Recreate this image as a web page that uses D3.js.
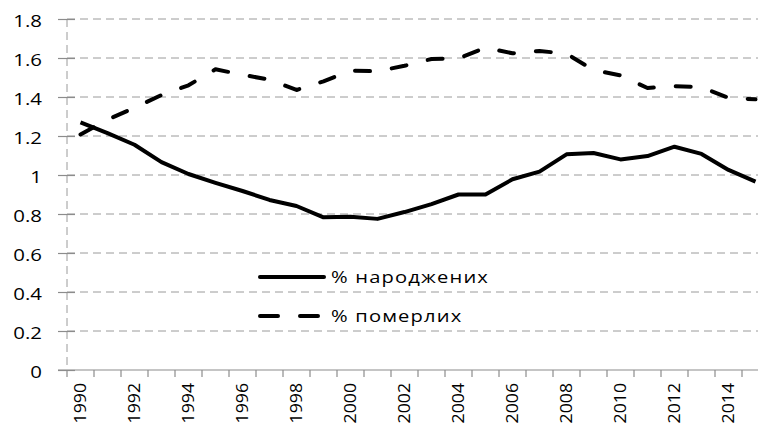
<!DOCTYPE html>
<html>
<head>
<meta charset="utf-8">
<script src="https://cdnjs.cloudflare.com/ajax/libs/d3/7.8.5/d3.min.js"></script>
<style>
	body { margin: 0; background: #fff; }
	svg { display: block; }
	text { font-family: "Open Sans", "Noto Sans", sans-serif; fill: #000; }
	.grid { stroke: #9a9a9a; stroke-width: 1; stroke-dasharray: 8,5; }
	.axis-line { stroke: #8c8c8c; stroke-width: 1.2; }
	.series { fill: none; stroke: #000; stroke-width: 4; stroke-linejoin: round; }
</style>
</head>
<body>
<div id="chart"></div>
<script>
// ----------------------------------------
// DATA

var years = [1990, 1991, 1992, 1993, 1994, 1995, 1996, 1997, 1998, 1999,
	2000, 2001, 2002, 2003, 2004, 2005, 2006, 2007, 2008, 2009,
	2010, 2011, 2012, 2013, 2014, 2015];

// % народжених
var births = [1.27, 1.215, 1.155, 1.066, 1.005, 0.96, 0.918, 0.872, 0.841, 0.783,
	0.786, 0.775, 0.81, 0.851, 0.90, 0.90, 0.978, 1.017, 1.106, 1.113,
	1.08, 1.097, 1.145, 1.108, 1.026, 0.966];

// % померлих
var deaths = [1.208, 1.284, 1.345, 1.41, 1.46, 1.542, 1.514, 1.489, 1.436, 1.48,
	1.535, 1.532, 1.56, 1.595, 1.598, 1.653, 1.624, 1.636, 1.622, 1.538,
	1.511, 1.446, 1.456, 1.45, 1.396, 1.388];

var yTicks = [0, 0.2, 0.4, 0.6, 0.8, 1, 1.2, 1.4, 1.6, 1.8];
var xLabels = years.filter(function (d) { return d % 2 === 0; });

var seriesNames = ["% народжених", "% померлих"];

// ----------------------------------------
// CHART

var width = 758;
var height = 423;

// plot area (right side runs past the edge, as in the source)
var plotLeft = 67, plotTop = 19, plotBottom = 370;
var band = 27;
var plotRight = plotLeft + band * years.length;

var svg = d3.select("#chart").append("svg")
	.attr("width", width)
	.attr("height", height);

var xScale = d3.scaleBand().domain(years).range([plotLeft, plotRight]);
var yScale = d3.scaleLinear().domain([0, 1.8]).range([plotBottom, plotTop]);

// horizontal gridlines
svg.append("g").selectAll("line")
	.data(yTicks.filter(function (d) { return d > 0; }))
	.enter().append("line")
	.attr("class", "grid")
	.attr("x1", plotLeft).attr("x2", width)
	.attr("y1", function (d) { return yScale(d); })
	.attr("y2", function (d) { return yScale(d); });

// y axis (dashed, like the gridlines)
svg.append("line")
	.attr("class", "grid")
	.attr("x1", plotLeft).attr("x2", plotLeft)
	.attr("y1", yScale(1.8)).attr("y2", plotBottom);

// y ticks + labels
var yAxis = d3.axisLeft(yScale)
	.tickValues(yTicks)
	.tickSize(9)
	.tickFormat(function (d) { return String(d); });

var gy = svg.append("g")
	.attr("transform", "translate(" + plotLeft + ",0)")
	.call(yAxis);
gy.select(".domain").remove();
gy.selectAll(".tick line")
	.attr("x1", -9)
	.attr("x2", 8)
	.attr("stroke", "#8c8c8c")
	.attr("stroke-width", 1.2);
gy.selectAll(".tick text").remove();
gy.selectAll(".tick").append("text")
	.attr("text-anchor", "end")
	.attr("dy", "0.36em")
	.attr("font-size", 17)
	.attr("transform", "translate(-25,1) scale(1.2,1)")
	.text(function (d) { return String(d); });

// x axis line
svg.append("line")
	.attr("class", "axis-line")
	.attr("x1", plotLeft - 9).attr("x2", width)
	.attr("y1", plotBottom).attr("y2", plotBottom);

// x ticks at band boundaries
var boundaries = years.map(function (d) { return xScale(d); }).concat([plotRight]);
svg.append("g").selectAll("line")
	.data(boundaries)
	.enter().append("line")
	.attr("class", "axis-line")
	.attr("x1", function (d) { return d; })
	.attr("x2", function (d) { return d; })
	.attr("y1", plotBottom)
	.attr("y2", plotBottom + 7);

// x labels, every second year, rotated
svg.append("g").selectAll("text")
	.data(xLabels)
	.enter().append("text")
	.attr("text-anchor", "end")
	.attr("dy", "0.36em")
	.attr("font-size", 15.5)
	.attr("transform", function (d) {
		var cx = xScale(d) + xScale.bandwidth() / 2;
		return "translate(" + cx + "," + (plotBottom + 13) + ") rotate(-90) scale(1.14,1)";
	})
	.text(function (d) { return d; });

// lines
var line = d3.line()
	.x(function (d, i) { return xScale(years[i]) + xScale.bandwidth() / 2; })
	.y(function (d) { return yScale(d); });

svg.append("path")
	.attr("class", "series")
	.attr("d", line(births));

svg.append("path")
	.attr("class", "series")
	.attr("stroke-linecap", "round")
	.attr("stroke-dasharray", "15,22")
	.attr("d", line(deaths));

// ----------------------------------------
// LEGEND

var legend = svg.append("g").attr("transform", "translate(258,277)");

legend.selectAll("g")
	.data(seriesNames)
	.enter().append("g")
	.attr("transform", function (d, i) { return "translate(0," + (i * 39) + ")"; })
	.each(function (d, i) {
		var g = d3.select(this);
		g.append("line")
			.attr("class", "series")
			.attr("x1", 2).attr("x2", i === 0 ? 66 : 64)
			.attr("stroke-linecap", "round")
			.attr("stroke-dasharray", i === 0 ? null : "18,22");
		g.append("text")
			.attr("x", 0)
			.attr("dy", "0.36em")
			.attr("font-size", 15.5)
			.attr("letter-spacing", 0.9)
			.attr("transform", "translate(73,0) scale(1.3,1)")
			.text(d);
	});
</script>
</body>
</html>
